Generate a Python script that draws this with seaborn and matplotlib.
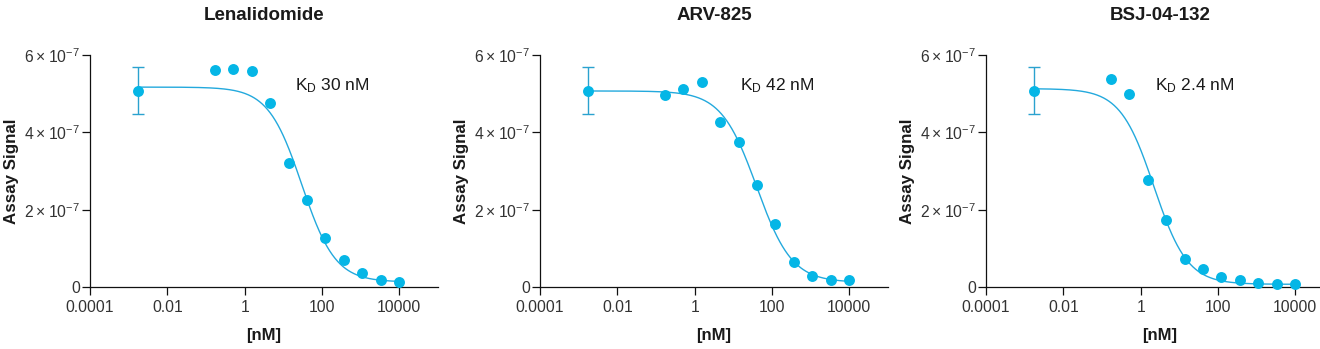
import numpy as np
import pandas as pd
import matplotlib
matplotlib.use("Agg")
import matplotlib.pyplot as plt
import seaborn as sns

# ---------------- data ----------------
titles = ["Lenalidomide", "ARV-825", "BSJ-04-132"]
kd_labels = ["30 nM", "42 nM", "2.4 nM"]

conc_nM = [0.169, 0.508, 1.52, 4.57, 13.7, 41.2, 123, 370, 1111, 3333, 10000]

signal_lena = [5.60, 5.63, 5.59, 4.76, 3.20, 2.25, 1.26, 0.71, 0.36, 0.19, 0.12]
signal_arv = [4.97, 5.11, 5.31, 4.26, 3.75, 2.63, 1.64, 0.655, 0.29, 0.19, 0.17]
signal_bsj = [5.37, 5.00, 2.78, 1.72, 0.73, 0.47, 0.26, 0.19, 0.10, 0.08, 0.08]
signal_scale = 1e-7

# control (no compound) point, plotted at left, with error bar
control_x = 0.0017
control_y = [5.08, 5.08, 5.08]
control_err = [0.60, 0.60, 0.60]

# 4-parameter logistic fit parameters (top, bottom, IC50 nM, hill)
fit_top = [5.17, 5.07, 5.13]
fit_bottom = [0.13, 0.12, 0.07]
fit_ic50 = [30.0, 40.0, 2.2]
fit_hill = [1.0, 0.95, 1.0]

# KD label anchor (x in nM)
kd_x = [20.0, 15.0, 2.4]
kd_y = 5.22

signals = [signal_lena, signal_arv, signal_bsj]

# ---------------- style ----------------
sns.set_style("ticks")
plt.rcParams["font.family"] = ["Liberation Sans", "DejaVu Sans"]
plt.rcParams["mathtext.default"] = "regular"

dot_color = "#05b6e6"
line_color = "#23a9dd"
err_color = "#2aa2cf"
tick_color = "#333333"
text_color = "#1a1a1a"

fig = plt.figure(figsize=(13.2, 3.49), dpi=100)
W, H = 1320.0, 349.0
ax_w = 348.0
ax_h = 232.0
ax_bottom_px = 287.0
lefts_px = [90.0, 540.0, 986.0]

xticks = [1e-4, 1e-2, 1, 100, 1e4]
xticklabels = ["0.0001", "0.01", "1", "100", "10000"]
yticks = [0, 2e-7, 4e-7, 6e-7]
yticklabels = ["0", r"$2\times10^{-7}$", r"$4\times10^{-7}$", r"$6\times10^{-7}$"]

for i in range(3):
    ax = fig.add_axes([lefts_px[i] / W, (H - ax_bottom_px) / H, ax_w / W, ax_h / H])
    df = pd.DataFrame({"conc": conc_nM,
                       "signal": np.array(signals[i]) * signal_scale})

    # fitted curve
    xs = np.logspace(np.log10(control_x), 4, 400)
    ys = fit_bottom[i] + (fit_top[i] - fit_bottom[i]) / (1 + (xs / fit_ic50[i]) ** fit_hill[i])
    curve = pd.DataFrame({"conc": xs, "signal": ys * signal_scale})
    sns.lineplot(data=curve, x="conc", y="signal", ax=ax, color=line_color,
                 linewidth=1.0, zorder=2)

    # control point with error bar
    ax.errorbar([control_x], [control_y[i] * signal_scale],
                yerr=[control_err[i] * signal_scale], fmt="none",
                ecolor=err_color, elinewidth=1.0, capsize=4, capthick=1.0, zorder=2)
    sns.scatterplot(x=[control_x], y=[control_y[i] * signal_scale], ax=ax,
                    color=dot_color, s=62, linewidth=0, zorder=3)

    # data points
    sns.scatterplot(data=df, x="conc", y="signal", ax=ax, color=dot_color,
                    s=62, linewidth=0, zorder=3, clip_on=False)

    ax.set_xscale("log")
    ax.set_xlim(1e-4, 1e5)
    ax.set_ylim(0, 6e-7)
    ax.set_xticks(xticks)
    ax.set_xticklabels(xticklabels)
    ax.minorticks_off()
    ax.set_yticks(yticks)
    ax.set_yticklabels(yticklabels)

    for s in ["top", "right"]:
        ax.spines[s].set_visible(False)
    for s in ["left", "bottom"]:
        ax.spines[s].set_linewidth(0.9)
        ax.spines[s].set_color("#111111")

    ax.tick_params(axis="both", direction="out", length=5.5, width=0.9,
                   color="#111111", labelcolor=tick_color, labelsize=11.3)
    ax.tick_params(axis="y", pad=1.5)
    ax.tick_params(axis="x", pad=4)

    ax.set_xlabel("[nM]", fontsize=12, fontweight="bold", color=text_color)
    ax.set_ylabel("Assay Signal", fontsize=12.2, fontweight="bold", color=text_color)
    ax.xaxis.set_label_coords(0.5, -0.175)
    ax.yaxis.set_label_coords(-71.0 / ax_w, 0.5)

    ax.text(0.5, 1 + 40.0 / ax_h, titles[i], transform=ax.transAxes,
            ha="center", va="center", fontsize=13.5, fontweight="bold",
            color=text_color)
    ax.text(kd_x[i], kd_y * signal_scale, r"K$_{D}$ " + kd_labels[i],
            ha="left", va="center", fontsize=12.5, color=text_color)

fig.savefig("out.png", dpi=100)
